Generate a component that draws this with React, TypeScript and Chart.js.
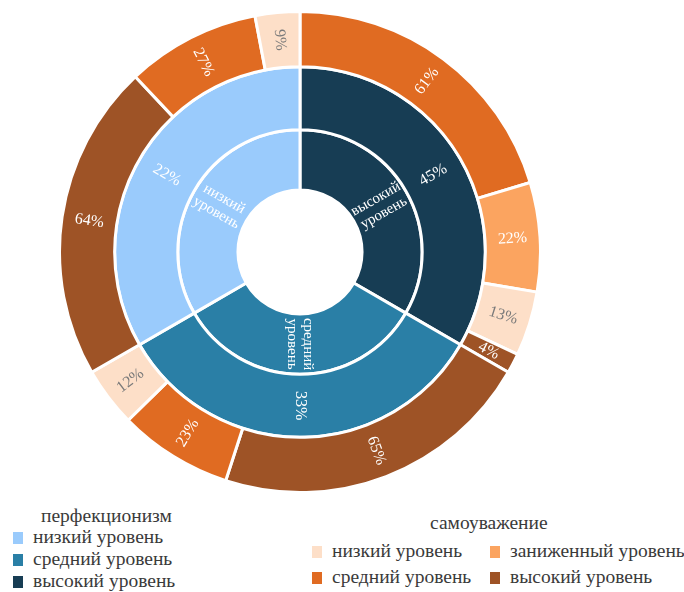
import React, { useEffect, useRef } from 'react';
import { Chart, registerables } from 'chart.js';

Chart.register(...registerables);

// Perfectionism levels, clockwise from the top
const perfLevels = ['высокий уровень', 'средний уровень', 'низкий уровень'];
const perfPercents = [45, 33, 22];
const perfColors = ['#173D54', '#2A7FA6', '#9ACBFC'];

// Self-esteem categories
const esteemLevels = ['низкий уровень', 'заниженный уровень', 'средний уровень', 'высокий уровень'];
const esteemColors = ['#FDDFC8', '#FBA460', '#E06B22', '#9E5326'];

// Self-esteem split inside each perfectionism group (clockwise order)
const highPerfEsteem = ['средний уровень', 'заниженный уровень', 'низкий уровень', 'высокий уровень'];
const highPerfValues = [61, 22, 13, 4];
const midPerfEsteem = ['высокий уровень', 'средний уровень', 'низкий уровень'];
const midPerfValues = [65, 23, 12];
const lowPerfEsteem = ['высокий уровень', 'средний уровень', 'низкий уровень'];
const lowPerfValues = [64, 27, 9];

// Legend order
const perfLegend = ['низкий уровень', 'средний уровень', 'высокий уровень'];
const perfLegendTitle = 'перфекционизм';
const esteemLegendTitle = 'самоуважение';

const FONT = '"Liberation Serif", "Times New Roman", serif';

const colorOfEsteem = (name: string) => esteemColors[esteemLevels.indexOf(name)];
const colorOfPerf = (name: string) => perfColors[perfLevels.indexOf(name)];

const arcLabelPlugin = {
  id: 'arcLabels',
  afterDatasetsDraw(chart: any) {
    const ctx = chart.ctx;
    chart.data.datasets.forEach((ds: any, di: number) => {
      const meta = chart.getDatasetMeta(di);
      meta.data.forEach((arc: any, i: number) => {
        const p = arc.getProps(['x', 'y', 'startAngle', 'endAngle', 'innerRadius', 'outerRadius'], true);
        const a = (p.startAngle + p.endAngle) / 2;
        const r = (p.innerRadius + p.outerRadius) / 2;
        const cx = p.x + Math.cos(a) * r;
        const cy = p.y + Math.sin(a) * r;
        let deg = ((a * 180) / Math.PI) % 360;
        if (deg < 0) deg += 360;
        let rot = a;
        if (deg > 90.5 && deg < 269.5) rot += Math.PI;
        const lines: string[] = ds.arcText[i];
        const color: string = ds.arcTextColor[i];
        ctx.save();
        ctx.translate(cx, cy);
        ctx.rotate(rot);
        ctx.font = ds.arcFont;
        ctx.fillStyle = color;
        ctx.textAlign = 'center';
        ctx.textBaseline = 'middle';
        const lh = ds.arcLineHeight;
        const off = ((lines.length - 1) * lh) / 2;
        lines.forEach((ln, k) => ctx.fillText(ln, 0, k * lh - off));
        ctx.restore();
      });
    });
  },
};

function ChartCanvas() {
  const ref = useRef<HTMLCanvasElement | null>(null);
  useEffect(() => {
    if (!ref.current) return;
    const outerNames = [...highPerfEsteem, ...midPerfEsteem, ...lowPerfEsteem];
    const outerVals = [...highPerfValues, ...midPerfValues, ...lowPerfValues];
    const groupSums = [highPerfValues, midPerfValues, lowPerfValues].map((g) => g.reduce((s, v) => s + v, 0));
    const outerColors = outerNames.map(colorOfEsteem);
    const outerTextColors = outerNames.map((n) => (n === 'низкий уровень' ? '#7a7a7a' : '#ffffff'));

    const chart = new Chart(ref.current, {
      type: 'doughnut',
      data: {
        labels: outerNames,
        datasets: [
          {
            data: outerVals,
            backgroundColor: outerColors,
            borderColor: '#ffffff',
            borderWidth: 3,
            weight: 55,
            arcText: outerVals.map((v) => [v + '%']),
            arcTextColor: outerTextColors,
            arcFont: `16px ${FONT}`,
            arcLineHeight: 16,
          } as any,
          {
            data: groupSums,
            backgroundColor: perfLevels.map(colorOfPerf),
            borderColor: '#ffffff',
            borderWidth: 3,
            weight: 63,
            arcText: perfPercents.map((v) => [v + '%']),
            arcTextColor: perfLevels.map(() => '#ffffff'),
            arcFont: `16px ${FONT}`,
            arcLineHeight: 16,
          } as any,
          {
            data: groupSums,
            backgroundColor: perfLevels.map(colorOfPerf),
            borderColor: '#ffffff',
            borderWidth: 3,
            weight: 60,
            arcText: perfLevels.map((n) => n.split(' ')),
            arcTextColor: perfLevels.map(() => '#ffffff'),
            arcFont: `15px ${FONT}`,
            arcLineHeight: 16,
          } as any,
        ],
      },
      options: {
        responsive: false,
        devicePixelRatio: 1,
        animation: false,
        cutout: '25.8%',
        layout: { padding: 0 },
        plugins: {
          legend: { display: false },
          tooltip: { enabled: false },
        },
      } as any,
      plugins: [arcLabelPlugin],
    });
    return () => chart.destroy();
  }, []);
  return (
    <canvas
      ref={ref}
      width={484}
      height={484}
      style={{ position: 'absolute', left: 58, top: 10, width: 484, height: 484 }}
    />
  );
}

const textStyle: React.CSSProperties = {
  position: 'absolute',
  fontFamily: FONT,
  fontSize: 19.5,
  lineHeight: '22px',
  color: '#3a3a3a',
  whiteSpace: 'nowrap',
};

function LegendItem({ x, y, color, label }: { x: number; y: number; color: string; label: string }) {
  return (
    <>
      <div style={{ position: 'absolute', left: x, top: y - 6, width: 10, height: 12, background: color }} />
      <div style={{ ...textStyle, left: x + 20, top: y - 12 }}>{label}</div>
    </>
  );
}

export default function App() {
  const rightPos = [
    { x: 312, y: 552 },
    { x: 490, y: 552 },
    { x: 312, y: 578 },
    { x: 490, y: 578 },
  ];
  return (
    <div style={{ position: 'absolute', left: 0, top: 0, width: 684, height: 592, background: '#fff', overflow: 'hidden' }}>
      <ChartCanvas />
      <div style={{ ...textStyle, left: 41, top: 505 }}>{perfLegendTitle}</div>
      {perfLegend.map((n, i) => (
        <LegendItem key={n} x={13} y={538 + i * 22} color={colorOfPerf(n)} label={n} />
      ))}
      <div style={{ ...textStyle, left: 430, top: 512 }}>{esteemLegendTitle}</div>
      {esteemLevels.map((n, i) => (
        <LegendItem key={n} x={rightPos[i].x} y={rightPos[i].y} color={colorOfEsteem(n)} label={n} />
      ))}
    </div>
  );
}
